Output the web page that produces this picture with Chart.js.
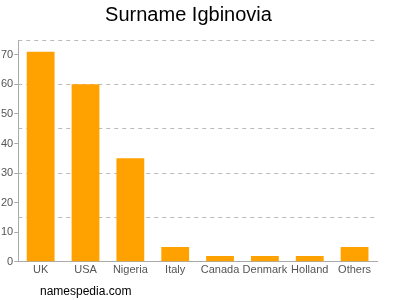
<!DOCTYPE html>
<html lang="en">
  <head>
    <meta charset="UTF-8" />
    <title>Surname Igbinovia</title>
    <script src="https://cdn.jsdelivr.net/npm/chart.js@4.4.1/dist/chart.umd.min.js"></script>
    <style>
      body { margin: 0; background: #fff; }
      #wrap { position: relative; width: 400px; height: 300px; }
      #footer {
        position: absolute; left: 40px; top: 284px;
        font: 12px "Liberation Sans", Arial, sans-serif; color: #000;
      }
    </style>
  </head>
  <body>
    <div id="wrap">
      <canvas id="chart" width="400" height="300"></canvas>
      <div id="footer">namespedia.com</div>
    </div>
    <script>
      var countries = ["UK", "USA", "Nigeria", "Italy", "Canada", "Denmark", "Holland", "Others"];
      var counts = [71, 60, 35, 5, 2, 2, 2, 5];
      var yTicks = [0, 10, 20, 30, 40, 50, 60, 70];
      var gridLines = [15, 30, 45, 60, 75];

      var font = "'Liberation Sans', Arial, sans-serif";

      new Chart("chart", {
        type: "bar",
        data: {
          labels: countries,
          datasets: [{
            data: counts,
            backgroundColor: "#ffa200",
            categoryPercentage: 0.62,
            barPercentage: 1
          }]
        },
        options: {
          responsive: false,
          animation: false,
          layout: { padding: { left: 0, right: 23, top: 0, bottom: 21 } },
          plugins: {
            legend: { display: false },
            tooltip: { enabled: false },
            title: {
              display: true,
              text: "Surname Igbinovia",
              color: "#000",
              font: { family: font, size: 20, weight: "normal" },
              padding: { top: 3, bottom: 13 }
            }
          },
          scales: {
            x: {
              grid: { display: false, drawTicks: false },
              border: { display: true, color: "#aaa" },
              ticks: { color: "#555", font: { family: font, size: 11 }, padding: 2, maxRotation: 0, autoSkip: false }
            },
            y: {
              min: 0, max: 75,
              afterBuildTicks: function (axis) {
                axis.ticks = yTicks.map(function (v) { return { value: v }; });
              },
              grid: { drawOnChartArea: false, drawTicks: true, tickLength: 4, color: "#aaa" },
              border: { display: true, color: "#aaa" },
              ticks: { color: "#555", font: { family: font, size: 11 }, padding: 1 }
            },
            yGrid: {
              position: "right",
              min: 0, max: 75,
              afterBuildTicks: function (axis) {
                axis.ticks = gridLines.map(function (v) { return { value: v }; });
              },
              afterFit: function (axis) { axis.width = 0; },
              ticks: { display: false },
              border: { display: false, dash: [4, 4] },
              grid: { drawTicks: false, color: "#bbb" }
            }
          }
        }
      });
    </script>
  </body>
</html>
